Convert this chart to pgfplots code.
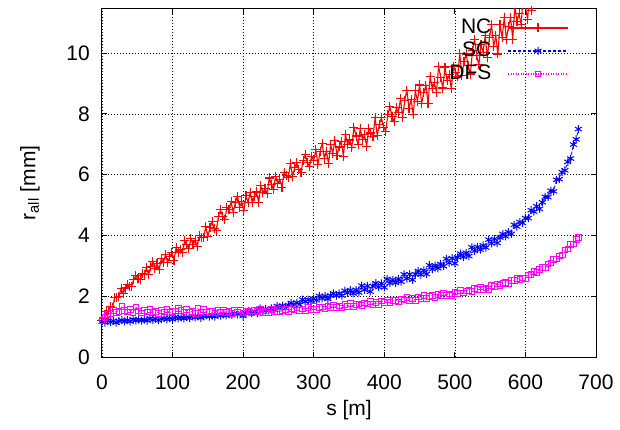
\documentclass[border=0pt]{standalone}
\usepackage{fontspec}
\setmainfont{Liberation Sans}
\usepackage{pgfplots}
\pgfplotsset{compat=1.18}
\definecolor{ncred}{RGB}{255,0,0}
\definecolor{scblue}{RGB}{0,0,255}
\definecolor{dfsmag}{RGB}{255,0,255}
\begin{document}
\fontsize{21bp}{25bp}\selectfont
\begin{tikzpicture}
\path[use as bounding box] (-102bp,-73bp) rectangle (518bp,357bp);
\begin{axis}[
  at={(0,0)}, anchor=south west,
  scale only axis, width=494bp, height=348bp,
  xmin=0, xmax=700, ymin=0, ymax=11.45,
  xtick={0,100,...,700}, ytick={0,2,...,10},
  tick align=inside, major tick length=5bp,
  grid=major,
  major grid style={black, line width=0.5bp, dash pattern=on 1bp off 2bp},
  axis line style={line width=1bp},
  every tick/.style={black, line width=1bp},
  tick label style={font=\fontsize{21bp}{25bp}\selectfont},
  /pgf/number format/assume math mode=true,
  xticklabel style={yshift=-11bp},
  yticklabel style={xshift=-5bp},
  xlabel={s [m]}, ylabel={r\textsubscript{all} [mm]},
  every axis x label/.style={at={(axis description cs:0.5,-0.152)}, anchor=center, font=\fontsize{21bp}{25bp}\selectfont},
  every axis y label/.style={at={(axis description cs:-0.146,0.5)}, rotate=90, anchor=center, font=\fontsize{21bp}{25bp}\selectfont},
  legend plot pos=right,
  legend cell align=right,
  legend style={draw=none, fill=none, at={(axis description cs:0.951,0.985)}, anchor=north east,
    font=\fontsize{21bp}{25bp}\selectfont, row sep=0bp, column sep=14bp,
    nodes={inner sep=2bp, text height=15bp, text depth=4bp}},
  legend image code/.code={
    \draw[#1, mark=none, line width=1.2bp] (0bp,0bp) -- (60bp,0bp);
    \path[#1] plot coordinates {(30bp,0bp)};},
]
\addplot[color=ncred, draw=ncred, line width=1.1bp, mark=+, mark size=4.5bp, mark options={ncred, solid}] coordinates {
(0,1.20)(3,1.26)(6,1.51)(9,1.52)(12,1.67)(15,1.63)(18,1.95)(21,1.97)(24,1.98)(27,2.26)(30,2.09)(33,2.27)(36,2.40)(39,2.33)(42,2.32)(45,2.55)(48,2.68)(51,2.58)(54,2.54)(57,2.75)
(60,2.71)(63,2.93)(66,2.70)(69,2.97)(72,3.15)(75,2.91)(78,3.07)(81,2.87)(84,3.24)(87,3.10)(90,3.37)(93,3.12)(96,3.30)(99,3.43)(102,3.18)(105,3.60)(108,3.44)(111,3.54)(114,3.43)(117,3.82)
(120,3.69)(123,3.56)(126,3.89)(129,3.71)(132,3.82)(135,3.65)(138,4.00)(141,3.94)(144,3.92)(147,4.29)(150,3.96)(153,4.26)(156,4.45)(159,4.24)(162,4.17)(165,4.61)(168,4.84)(171,4.62)(174,4.53)(177,4.91)
(180,4.84)(183,5.11)(186,4.75)(189,5.08)(192,5.29)(195,4.93)(198,5.11)(201,4.81)(204,5.30)(207,5.09)(210,5.42)(213,5.07)(216,5.28)(219,5.43)(222,5.08)(225,5.63)(228,5.40)(231,5.54)(234,5.37)(237,5.89)
(240,5.69)(243,5.50)(246,5.95)(249,5.70)(252,5.84)(255,5.59)(258,6.07)(261,5.97)(264,5.90)(267,6.37)(270,5.94)(273,6.23)(276,6.39)(279,6.17)(282,6.07)(285,6.47)(288,6.66)(291,6.40)(294,6.26)(297,6.60)
(300,6.47)(303,6.82)(306,6.33)(309,6.76)(312,7.03)(315,6.54)(318,6.77)(321,6.36)(324,6.99)(327,6.70)(330,7.13)(333,6.64)(336,6.91)(339,7.10)(342,6.61)(345,7.32)(348,6.99)(351,7.14)(354,6.89)(357,7.56)
(360,7.27)(363,6.98)(366,7.53)(369,7.16)(372,7.31)(375,6.94)(378,7.53)(381,7.37)(384,7.26)(387,7.87)(390,7.29)(393,7.66)(396,7.87)(399,7.56)(402,7.43)(405,7.97)(408,8.24)(411,7.91)(414,7.74)(417,8.20)
(420,8.05)(423,8.50)(426,7.89)(429,8.44)(432,8.78)(435,8.18)(438,8.47)(441,7.97)(444,8.76)(447,8.41)(450,8.95)(453,8.35)(456,8.69)(459,8.94)(462,8.33)(465,9.23)(468,8.82)(471,9.02)(474,8.71)(477,9.56)
(480,9.20)(483,8.85)(486,9.54)(489,9.09)(492,9.28)(495,8.83)(498,9.57)(501,9.37)(504,9.23)(507,9.99)(510,9.25)(513,9.71)(516,9.97)(519,9.58)(522,9.31)(525,10.09)(528,10.45)(531,9.91)(534,9.61)(537,10.27)
(540,10.03)(543,10.57)(546,9.85)(549,10.51)(552,10.93)(555,10.21)(558,10.57)(561,9.97)(564,10.93)(567,10.51)(570,11.17)(573,10.45)(576,10.87)(579,11.17)(582,10.45)(585,11.53)(588,11.05)(591,11.29)(594,10.93)(597,11.95)
(600,11.53)(603,11.11)(606,11.95)(609,11.41)(612,11.65)
};
\addlegendentry{NC}
\addplot[color=scblue, draw=scblue, line width=0.8bp, dash pattern=on 3bp off 2bp, mark=asterisk, mark size=4bp, mark options={scblue, solid, line width=1bp}] coordinates {
(0,1.16)(4,1.13)(8,1.20)(12,1.15)(16,1.19)(20,1.13)(24,1.18)(28,1.21)(32,1.17)(36,1.21)(40,1.17)(44,1.24)(48,1.20)(52,1.23)(56,1.20)(60,1.23)(64,1.20)(68,1.27)(72,1.22)(76,1.26)
(80,1.21)(84,1.25)(88,1.28)(92,1.24)(96,1.28)(100,1.24)(104,1.32)(108,1.27)(112,1.30)(116,1.27)(120,1.31)(124,1.28)(128,1.35)(132,1.30)(136,1.34)(140,1.29)(144,1.34)(148,1.37)(152,1.33)(156,1.36)
(160,1.33)(164,1.41)(168,1.36)(172,1.40)(176,1.37)(180,1.40)(184,1.38)(188,1.44)(192,1.40)(196,1.44)(200,1.35)(204,1.45)(208,1.52)(212,1.44)(216,1.51)(220,1.44)(224,1.60)(228,1.52)(232,1.58)(236,1.53)
(240,1.60)(244,1.55)(248,1.68)(252,1.61)(256,1.69)(260,1.60)(264,1.71)(268,1.78)(272,1.71)(276,1.79)(280,1.72)(284,1.89)(288,1.82)(292,1.89)(296,1.84)(300,1.92)(304,1.87)(308,2.01)(312,1.93)(316,2.01)
(320,1.91)(324,2.02)(328,2.09)(332,2.02)(336,2.09)(340,2.02)(344,2.18)(348,2.11)(352,2.20)(356,2.09)(360,2.21)(364,2.12)(368,2.35)(372,2.21)(376,2.34)(380,2.15)(384,2.33)(388,2.43)(392,2.30)(396,2.42)
(400,2.29)(404,2.57)(408,2.43)(412,2.54)(416,2.44)(420,2.57)(424,2.48)(428,2.72)(432,2.58)(436,2.72)(440,2.54)(444,2.72)(448,2.83)(452,2.71)(456,2.85)(460,2.73)(464,3.02)(468,2.89)(472,3.01)(476,2.92)
(480,3.06)(484,2.99)(488,3.23)(492,3.10)(496,3.25)(500,3.08)(504,3.28)(508,3.40)(512,3.29)(516,3.43)(520,3.32)(524,3.61)(528,3.49)(532,3.62)(536,3.53)(540,3.67)(544,3.60)(548,3.86)(552,3.74)(556,3.88)
(560,3.75)(564,3.93)(568,4.05)(572,3.97)(576,4.11)(580,4.05)(584,4.35)(588,4.29)(592,4.44)(596,4.41)(600,4.57)(604,4.57)(608,4.83)(612,4.78)(616,4.96)(620,4.87)(624,5.09)(628,5.27)(632,5.26)(636,5.47)
(640,5.45)(644,5.83)(648,5.85)(652,6.08)(656,6.14)(660,6.42)(664,6.53)(668,6.99)(672,7.16)(675,7.50)
};
\addlegendentry{SC}
\addplot[color=dfsmag, draw=dfsmag, line width=0.8bp, dash pattern=on 1bp off 1.5bp, mark=square, mark size=2.8bp, mark options={dfsmag, solid}] coordinates {
(0,1.20)(4,1.30)(8,1.40)(12,1.43)(16,1.53)(20,1.47)(24,1.51)(28,1.66)(32,1.54)(36,1.48)(40,1.56)(44,1.46)(48,1.65)(52,1.52)(56,1.45)(60,1.54)(64,1.49)(68,1.56)(72,1.47)(76,1.51)
(80,1.44)(84,1.54)(88,1.48)(92,1.56)(96,1.46)(100,1.51)(104,1.52)(108,1.60)(112,1.53)(116,1.49)(120,1.56)(124,1.47)(128,1.51)(132,1.44)(136,1.62)(140,1.48)(144,1.56)(148,1.46)(152,1.51)(156,1.52)
(160,1.45)(164,1.53)(168,1.49)(172,1.55)(176,1.46)(180,1.50)(184,1.43)(188,1.53)(192,1.47)(196,1.55)(200,1.45)(204,1.51)(208,1.52)(212,1.45)(216,1.53)(220,1.50)(224,1.57)(228,1.47)(232,1.52)(236,1.45)
(240,1.56)(244,1.50)(248,1.58)(252,1.48)(256,1.54)(260,1.56)(264,1.49)(268,1.58)(272,1.55)(276,1.62)(280,1.53)(284,1.58)(288,1.52)(292,1.63)(296,1.57)(300,1.66)(304,1.57)(308,1.63)(312,1.65)(316,1.58)
(320,1.68)(324,1.64)(328,1.72)(332,1.63)(336,1.68)(340,1.62)(344,1.73)(348,1.67)(352,1.76)(356,1.67)(360,1.74)(364,1.75)(368,1.69)(372,1.78)(376,1.75)(380,1.83)(384,1.74)(388,1.79)(392,1.73)(396,1.84)
(400,1.79)(404,1.88)(408,1.79)(412,1.86)(416,1.87)(420,1.81)(424,1.91)(428,1.88)(432,1.96)(436,1.87)(440,1.92)(444,1.86)(448,1.98)(452,1.93)(456,2.02)(460,1.93)(464,2.00)(468,2.02)(472,1.96)(476,2.06)
(480,2.03)(484,2.11)(488,2.03)(492,2.08)(496,2.02)(500,2.14)(504,2.10)(508,2.19)(512,2.11)(516,2.18)(520,2.20)(524,2.15)(528,2.25)(532,2.22)(536,2.31)(540,2.23)(544,2.28)(548,2.23)(552,2.36)(556,2.32)
(560,2.41)(564,2.36)(568,2.43)(572,2.46)(576,2.43)(580,2.52)(584,2.52)(588,2.59)(592,2.55)(596,2.60)(600,2.58)(604,2.70)(608,2.71)(612,2.81)(616,2.79)(620,2.88)(624,2.94)(628,2.94)(632,3.06)(636,3.10)
(640,3.22)(644,3.23)(648,3.33)(652,3.36)(656,3.52)(660,3.56)(664,3.70)(668,3.72)(672,3.87)(675,3.93)
};
\addlegendentry{DFS}
\end{axis}
\end{tikzpicture}
\end{document}
